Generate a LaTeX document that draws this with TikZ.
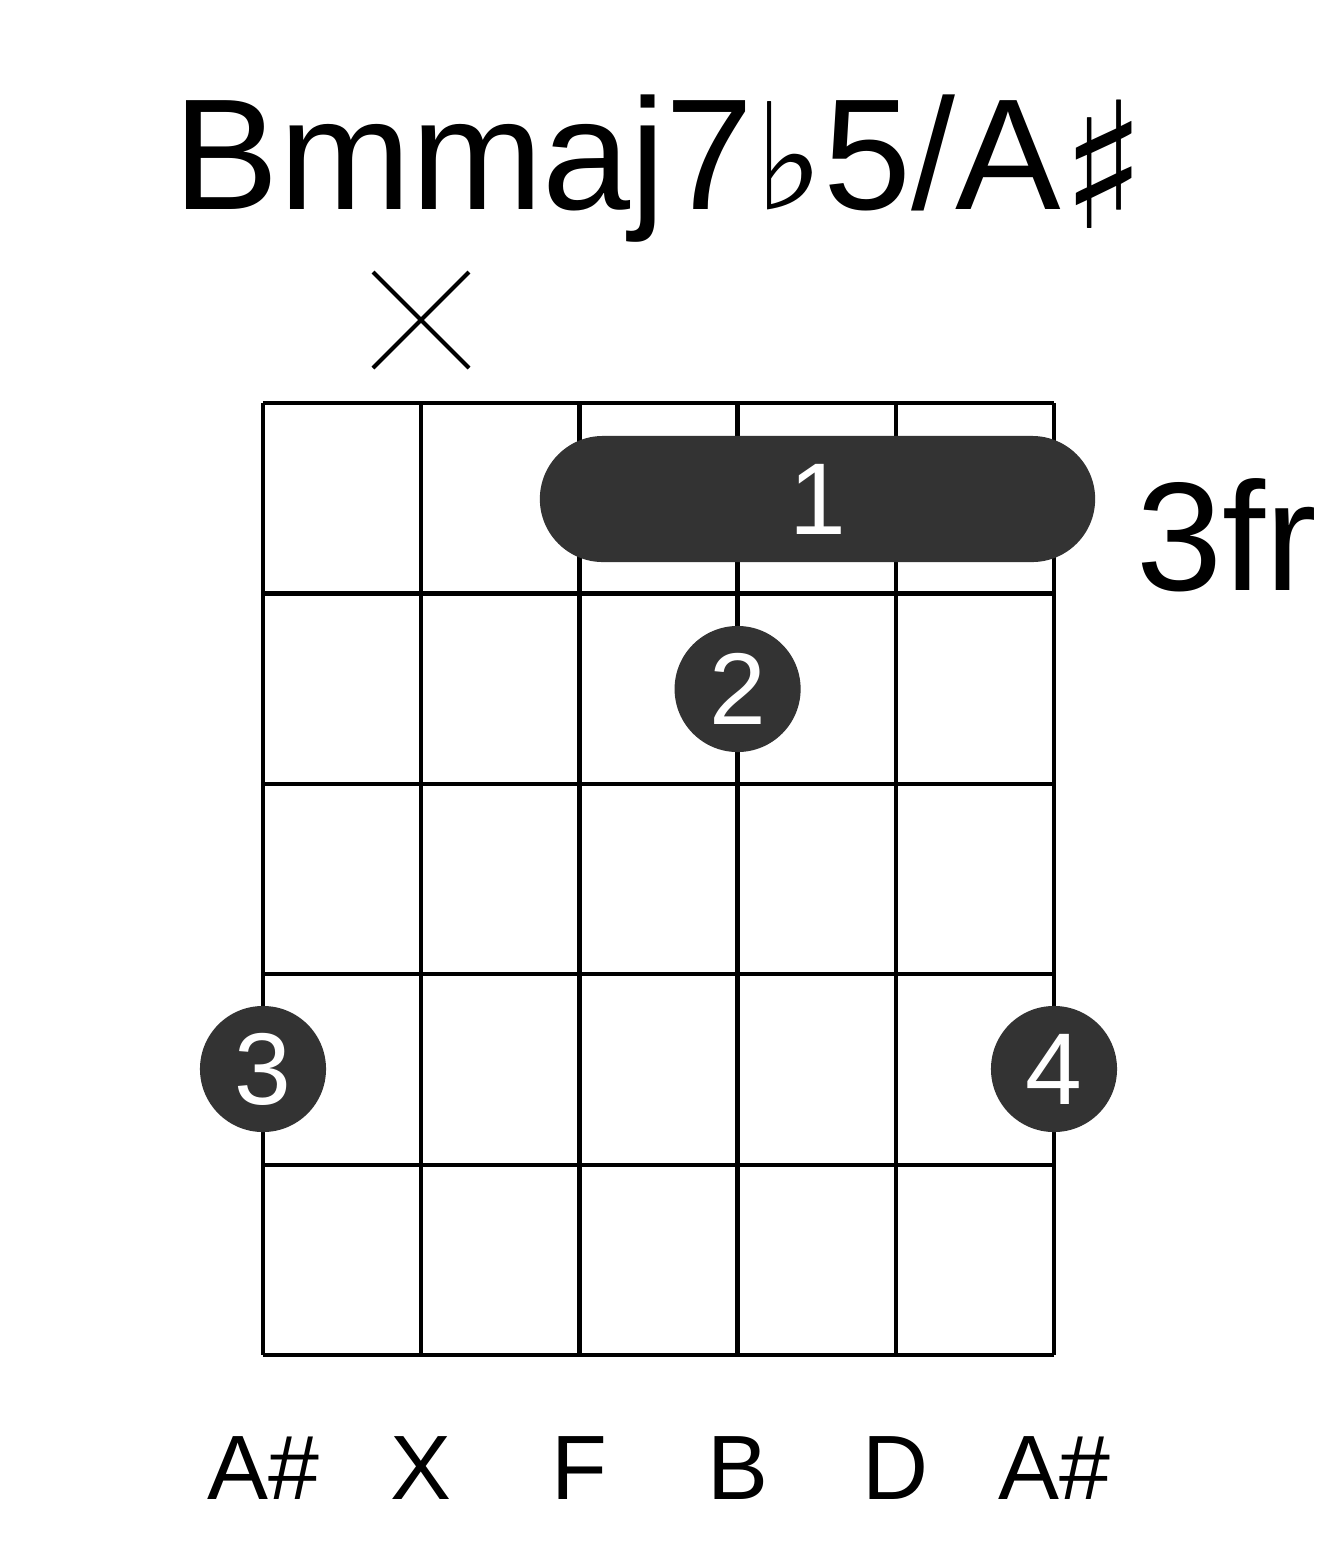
\documentclass[tikz,border=0pt]{standalone}
\usepackage{fontspec}
\setmainfont{Liberation Sans}
\newfontfamily\musicsym{DejaVu Sans}
\usepackage{tikz}
\usetikzlibrary{shapes.misc, positioning}

\begin{document}
\begin{tikzpicture}[
    x=0.01cm, y=-0.01cm,
    gridline/.style = {draw=black, line width=1.2pt},
    fingerdot/.style = {circle, fill=black!80, minimum size=1.26cm, inner sep=0pt, text=white, font=\fontsize{29}{34}\selectfont},
    barrenode/.style = {rounded rectangle, fill=black!80, minimum width=5.55cm, minimum height=1.26cm, inner sep=0pt, text=white, font=\fontsize{29}{34}\selectfont},
    notelabel/.style = {anchor=base, inner sep=0pt, font=\fontsize{26}{31}\selectfont}
]
\useasboundingbox (0,0) rectangle (1317,1551);

% title
\node [anchor=base, inner sep=0pt, font=\fontsize{45}{54}\selectfont] (title) at (660,209)
    {Bmmaj7{\musicsym\fontsize{42}{50}\selectfont ♭}5/A{\musicsym\fontsize{50}{60}\selectfont\raisebox{-0.11em}{♯}}};

% muted string
\draw[line width=1.2pt] (373,272) -- (469,368);
\draw[line width=1.2pt] (469,272) -- (373,368);

% strings
\draw[gridline] (263,403) -- (263,1355);
\draw[gridline] (421.2,403) -- (421.2,1355);
\draw[gridline] (579.4,403) -- (579.4,1355);
\draw[gridline] (737.6,403) -- (737.6,1355);
\draw[gridline] (895.8,403) -- (895.8,1355);
\draw[gridline] (1054,403) -- (1054,1355);

% frets
\draw[gridline] (263,403) -- (1054,403);
\draw[gridline] (263,593.4) -- (1054,593.4);
\draw[gridline] (263,783.8) -- (1054,783.8);
\draw[gridline] (263,974.2) -- (1054,974.2);
\draw[gridline] (263,1164.6) -- (1054,1164.6);
\draw[gridline] (263,1355) -- (1054,1355);

% fingers
\node [barrenode] (f1) at (817.5,499) {1};
\node [fingerdot] (f2) at (737.6,689) {2};
\node [fingerdot] (f3) at (263,1069) {3};
\node [fingerdot] (f4) at (1054,1069) {4};

\node [anchor=base west, inner sep=0pt, font=\fontsize{44}{53}\selectfont] (fret) at (1136,590) {3fr};

% notes
\node [notelabel] (s1) at (263,1499) {A\#};
\node [notelabel] (s2) at (421.2,1499) {X};
\node [notelabel] (s3) at (579.4,1499) {F};
\node [notelabel] (s4) at (737.6,1499) {B};
\node [notelabel] (s5) at (895.8,1499) {D};
\node [notelabel] (s6) at (1054,1499) {A\#};

\end{tikzpicture}
\end{document}
